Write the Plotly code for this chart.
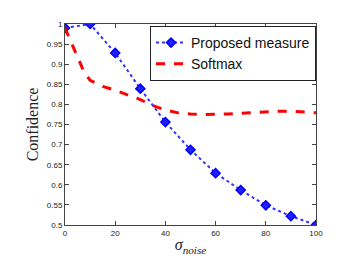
import plotly.graph_objects as go

prop_x = [0, 10, 20, 30, 40, 50, 60, 70, 80, 90, 100]
prop_y = [0.99, 1.0, 0.928, 0.839, 0.756, 0.687, 0.629, 0.587, 0.549, 0.522, 0.5]

soft_x = [0, 2.5, 5, 7.5, 10, 15, 20, 25, 30, 35, 40, 45, 50, 55, 60, 65, 70, 75, 80, 85, 90, 95, 100]
soft_y = [0.99, 0.955, 0.918, 0.882, 0.86, 0.845, 0.835, 0.823, 0.812, 0.797, 0.786, 0.779, 0.776, 0.775,
          0.775, 0.776, 0.778, 0.780, 0.782, 0.783, 0.783, 0.781, 0.779]

x_ticks = [0, 20, 40, 60, 80, 100]
y_ticks = [0.5, 0.55, 0.6, 0.65, 0.7, 0.75, 0.8, 0.85, 0.9, 0.95, 1.0]
y_labels = ["0.5", "0.55", "0.6", "0.65", "0.7", "0.75", "0.8", "0.85", "0.9", "0.95", "1"]

fig = go.Figure()
fig.add_trace(go.Scatter(
    x=prop_x, y=prop_y, mode="lines+markers", name="Proposed measure",
    line=dict(color="#3333ff", width=2, dash="dot"),
    marker=dict(symbol="diamond", size=7, color="#2020ff", line=dict(color="#0000ff", width=1.5)),
))
fig.add_trace(go.Scatter(
    x=soft_x, y=soft_y, mode="lines", name="Softmax",
    line=dict(color="#ff0000", width=3, dash="dash"),
))

axis_common = dict(
    showgrid=False, zeroline=False, showline=True, linecolor="#444444", linewidth=1,
    mirror="ticks", ticks="inside", ticklen=4, tickcolor="#444444",
    tickfont=dict(family="Liberation Sans, Arial", size=8, color="#222222"),
)
fig.update_xaxes(range=[0, 100], tickvals=x_ticks, **axis_common,
                 title=dict(text="<i>σ<sub>noise</sub></i>", standoff=2,
                            font=dict(family="Liberation Serif, Times New Roman", size=16, color="#222222")))
fig.update_yaxes(range=[0.5, 1.0], tickvals=y_ticks, ticktext=y_labels, **axis_common,
                 title=dict(text="Confidence", standoff=4,
                            font=dict(family="Liberation Serif, Times New Roman", size=16, color="#222222")))

fig.update_layout(
    width=341, height=255,
    margin=dict(l=57, r=33, t=12, b=30),
    paper_bgcolor="white", plot_bgcolor="white",
    legend=dict(x=1, y=0.99, xanchor="right", yanchor="top",
                bordercolor="#222222", borderwidth=1, bgcolor="white",
                font=dict(family="Liberation Sans, Arial", size=14, color="#111111"),
                tracegroupgap=0, itemwidth=30),
    showlegend=True,
)

fig.write_html("out.html")
